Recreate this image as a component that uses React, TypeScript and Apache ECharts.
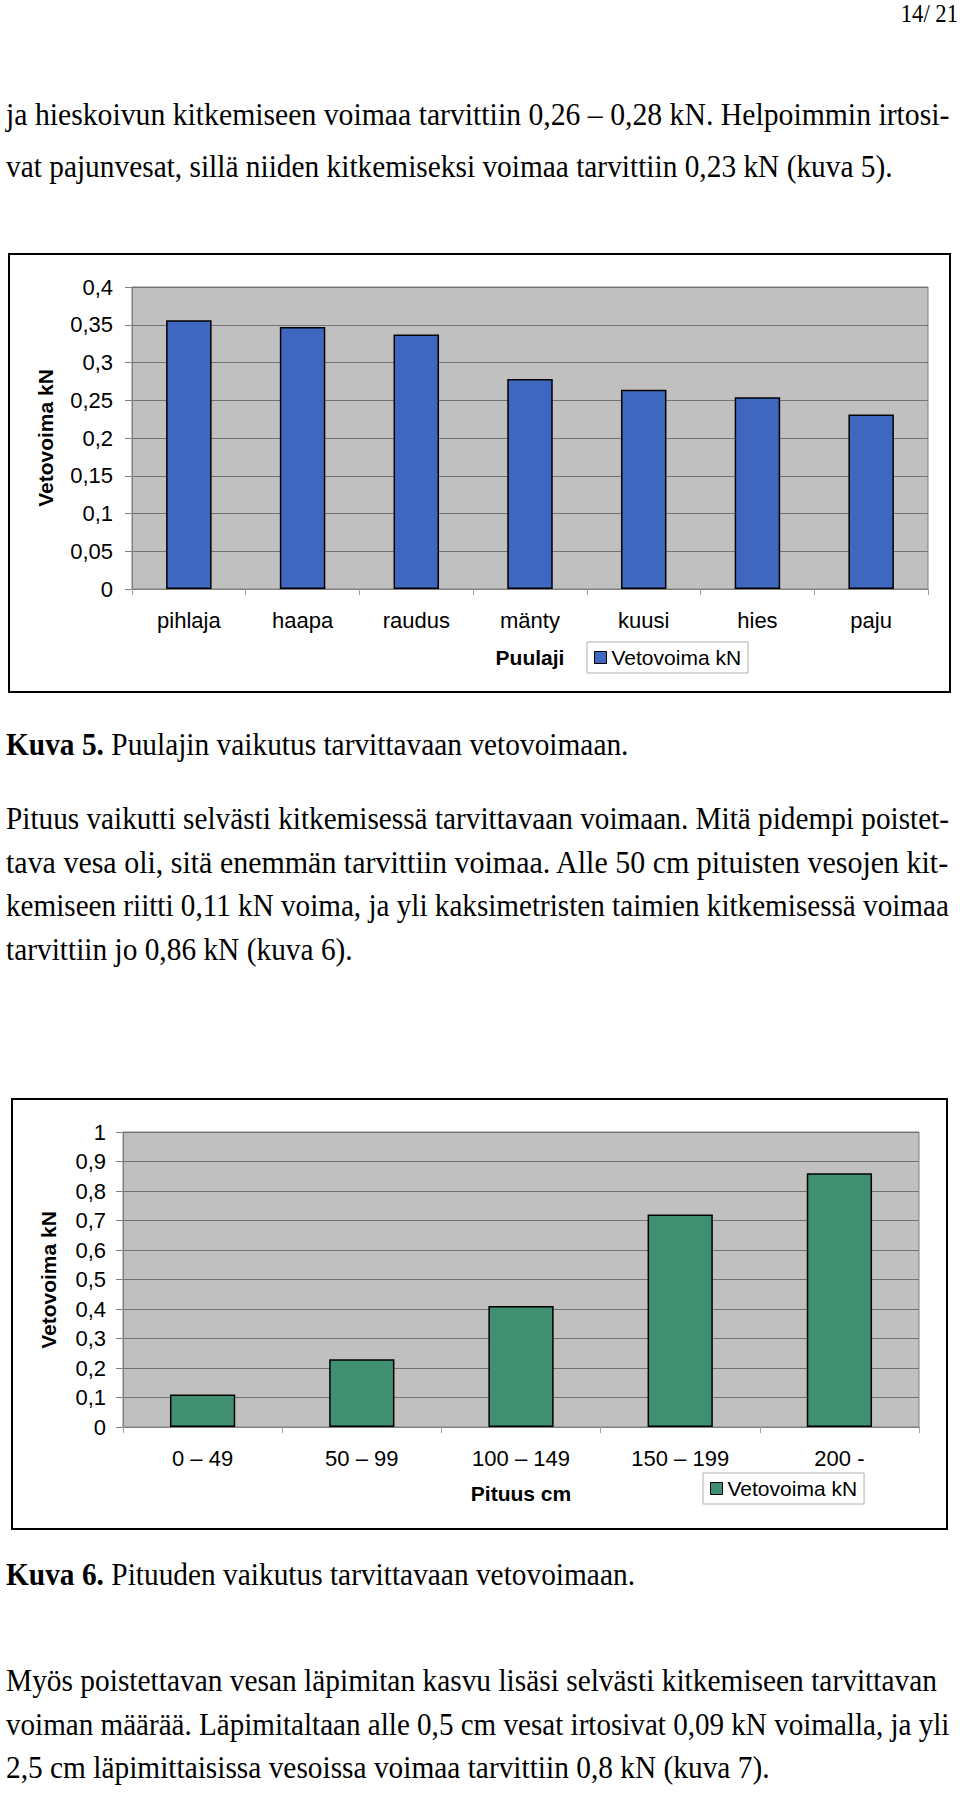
import React, { useEffect, useRef } from 'react';
import * as echarts from 'echarts';

// ---------- data ----------
const species = ['pihlaja', 'haapa', 'raudus', 'mänty', 'kuusi', 'hies', 'paju'];
const speciesForce = [0.356, 0.347, 0.337, 0.278, 0.264, 0.254, 0.231];
const speciesTicks = ['0', '0,05', '0,1', '0,15', '0,2', '0,25', '0,3', '0,35', '0,4'];

const lengthClasses = ['0 – 49', '50 – 99', '100 – 149', '150 – 199', '200 -'];
const lengthForce = [0.11, 0.23, 0.41, 0.72, 0.86];
const lengthTicks = ['0', '0,1', '0,2', '0,3', '0,4', '0,5', '0,6', '0,7', '0,8', '0,9', '1'];

const pageNumber = '14/ 21';
const para1 = [
  'ja hieskoivun kitkemiseen voimaa tarvittiin 0,26 – 0,28 kN. Helpoimmin irtosi-',
  'vat pajunvesat, sillä niiden kitkemiseksi voimaa tarvittiin 0,23 kN (kuva 5).',
];
const caption5 = ['Kuva 5.', ' Puulajin vaikutus tarvittavaan vetovoimaan.'];
const para2 = [
  'Pituus vaikutti selvästi kitkemisessä tarvittavaan voimaan. Mitä pidempi poistet-',
  'tava vesa oli, sitä enemmän tarvittiin voimaa. Alle 50 cm pituisten vesojen kit-',
  'kemiseen riitti 0,11 kN voima, ja yli kaksimetristen taimien kitkemisessä voimaa',
  'tarvittiin jo 0,86 kN (kuva 6).',
];
const caption6 = ['Kuva 6.', ' Pituuden vaikutus tarvittavaan vetovoimaan.'];
const para3 = [
  'Myös poistettavan vesan läpimitan kasvu lisäsi selvästi kitkemiseen tarvittavan',
  'voiman määrää. Läpimitaltaan alle 0,5 cm vesat irtosivat 0,09 kN voimalla, ja yli',
  '2,5 cm läpimittaisissa vesoissa voimaa tarvittiin 0,8 kN (kuva 7).',
];
const seriesName = 'Vetovoima kN';
const yAxisTitle = 'Vetovoima kN';
const xTitle1 = 'Puulaji';
const xTitle2 = 'Pituus cm';

// ---------- styles ----------
const SERIF = '"Liberation Serif", "Times New Roman", serif';
const SANS = '"Liberation Sans", Arial, sans-serif';
const BODY_SIZE = 31;
const LINE_H = 43.5;
const TEXT_LEFT = 6;
const JUSTIFY_WIDTH = 944;
const REF_NATURAL = 887; // natural width of an unjustified reference line
const BLUE = '#4067c0';
const GREEN = '#3f8f70';
const PLOT_BG = '#c0c0c0';
const GRID_LINE = '#737373';
const AX = 22;

let measureCtx: CanvasRenderingContext2D | null = null;
function measure(text: string, font: string) {
  if (!measureCtx) measureCtx = document.createElement('canvas').getContext('2d');
  if (!measureCtx) return text.length * 14;
  measureCtx.font = font;
  return measureCtx.measureText(text).width;
}

function bodyLine(text: string, y: number, sx: number) {
  return {
    type: 'text',
    x: TEXT_LEFT,
    y,
    scaleX: sx,
    silent: true,
    style: {
      text,
      fill: '#000',
      fontFamily: SERIF,
      fontSize: BODY_SIZE,
      textAlign: 'left',
      textVerticalAlign: 'middle',
    },
  };
}

function captionLine(parts: string[], y: number, sx: number) {
  return {
    type: 'text',
    x: TEXT_LEFT,
    y,
    scaleX: sx,
    silent: true,
    style: {
      text: '{b|' + parts[0] + '}{r|' + parts[1] + '}',
      fill: '#000',
      fontFamily: SERIF,
      fontSize: BODY_SIZE,
      textVerticalAlign: 'middle',
      rich: {
        b: { fontFamily: SERIF, fontSize: BODY_SIZE, fontWeight: 'bold', fill: '#000' },
        r: { fontFamily: SERIF, fontSize: BODY_SIZE, fill: '#000' },
      },
    },
  };
}

function sansText(text: string, x: number, y: number, bold: boolean, size: number, rotate = 0) {
  return {
    type: 'text',
    x,
    y,
    rotation: rotate,
    silent: true,
    style: {
      text,
      fill: '#000',
      fontFamily: SANS,
      fontSize: size,
      fontWeight: bold ? 'bold' : 'normal',
      textAlign: 'center',
      textVerticalAlign: 'middle',
    },
  };
}

function frame(x: number, y: number, w: number, h: number) {
  return {
    type: 'rect',
    silent: true,
    shape: { x, y, width: w, height: h },
    style: { fill: 'none', stroke: '#000', lineWidth: 2 },
  };
}

function yAxis(gridIndex: number, max: number, interval: number, ticks: string[], margin: number) {
  return {
    type: 'value',
    gridIndex,
    min: 0,
    max,
    interval,
    axisLine: { show: true, lineStyle: { color: '#808080', width: 1 } },
    axisTick: { show: true, length: 7, lineStyle: { color: '#808080' } },
    splitLine: { show: true, lineStyle: { color: GRID_LINE, width: 1 } },
    axisLabel: {
      color: '#000',
      fontFamily: SANS,
      fontSize: AX,
      margin,
      formatter: (v: number, i: number) => {
        const idx = Math.round(v / interval);
        return ticks[idx] !== undefined ? ticks[idx] : ticks[i];
      },
    },
  };
}

function xAxis(gridIndex: number, data: string[]) {
  return {
    type: 'category',
    gridIndex,
    data,
    boundaryGap: true,
    axisLine: { show: true, lineStyle: { color: '#808080', width: 1 } },
    axisTick: { show: true, length: 6, alignWithLabel: false, lineStyle: { color: '#a0a0a0' } },
    axisLabel: { color: '#000', fontFamily: SANS, fontSize: AX, margin: 20, interval: 0 },
    splitLine: { show: false },
  };
}

function legend(seriesId: string, left: number, top: number) {
  return {
    show: true,
    left,
    top,
    orient: 'horizontal',
    data: [seriesId],
    formatter: () => seriesName,
    icon: 'rect',
    itemWidth: 12,
    itemHeight: 12,
    itemGap: 8,
    padding: [5, 7, 5, 7],
    borderColor: '#b0b0b0',
    borderWidth: 1,
    backgroundColor: '#fff',
    selectedMode: false,
    itemStyle: { borderColor: '#000', borderWidth: 1 },
    textStyle: { color: '#000', fontFamily: SANS, fontSize: 21 },
  };
}

export default function App() {
  const ref = useRef<HTMLDivElement>(null);

  useEffect(() => {
    if (!ref.current) return;
    const chart = echarts.init(ref.current, undefined, { renderer: 'svg' });

    const font = `${BODY_SIZE}px ${SERIF}`;
    const base = REF_NATURAL / measure(para1[1], font);
    const fit = (t: string, w: number) => w / measure(t, font);

    // target widths of each line (null = natural width)
    const addPara = (lines: string[], widths: (number | null)[], y0: number, step: number, out: any[]) => {
      lines.forEach((t, i) => {
        const w = widths[i];
        out.push(bodyLine(t, y0 + i * step, w == null ? base : fit(t, w)));
      });
    };

    const graphics: any[] = [];
    graphics.push({
      type: 'text',
      x: 958,
      y: 13,
      scaleX: base * 0.92,
      silent: true,
      style: {
        text: pageNumber,
        fill: '#000',
        fontFamily: SERIF,
        fontSize: 26,
        textAlign: 'right',
        textVerticalAlign: 'middle',
      },
    });
    addPara(para1, [JUSTIFY_WIDTH, null], 115, 52, graphics);
    graphics.push(frame(9, 254, 941, 438));
    graphics.push(captionLine(caption5, 745, base));
    addPara(para2, [JUSTIFY_WIDTH, JUSTIFY_WIDTH, JUSTIFY_WIDTH, null], 819, LINE_H, graphics);
    graphics.push(frame(12, 1099, 935, 430));
    graphics.push(captionLine(caption6, 1575, base));
    addPara(para3, [931, JUSTIFY_WIDTH, null], 1681, LINE_H, graphics);

    graphics.push(sansText(yAxisTitle, 45, 438, true, 21, Math.PI / 2));
    graphics.push(sansText(xTitle1, 530, 657, true, 21));
    graphics.push(sansText(yAxisTitle, 48, 1280, true, 21, Math.PI / 2));
    graphics.push(sansText(xTitle2, 521, 1493, true, 21));

    chart.setOption({
      animation: false,
      backgroundColor: '#fff',
      grid: [
        {
          left: 132, top: 287, width: 796, height: 302,
          show: true, backgroundColor: PLOT_BG, borderColor: '#808080', borderWidth: 1,
          containLabel: false,
        },
        {
          left: 123, top: 1132, width: 796, height: 295,
          show: true, backgroundColor: PLOT_BG, borderColor: '#808080', borderWidth: 1,
          containLabel: false,
        },
      ],
      xAxis: [xAxis(0, species), xAxis(1, lengthClasses)],
      yAxis: [
        yAxis(0, 0.4, 0.05, speciesTicks, 19),
        yAxis(1, 1, 0.1, lengthTicks, 17),
      ],
      legend: [legend('species', 587, 642), legend('length', 703, 1473)],
      series: [
        {
          id: 'species',
          name: 'species',
          type: 'bar',
          xAxisIndex: 0,
          yAxisIndex: 0,
          data: speciesForce,
          barWidth: '40%',
          itemStyle: { color: BLUE, borderColor: '#000', borderWidth: 1.5 },
        },
        {
          id: 'length',
          name: 'length',
          type: 'bar',
          xAxisIndex: 1,
          yAxisIndex: 1,
          data: lengthForce,
          barWidth: '41%',
          itemStyle: { color: GREEN, borderColor: '#000', borderWidth: 1.5 },
        },
      ],
      graphic: graphics,
    });

    return () => chart.dispose();
  }, []);

  return (
    <div
      ref={ref}
      style={{ position: 'absolute', left: 0, top: 0, width: 960, height: 1802, background: '#fff' }}
    />
  );
}
